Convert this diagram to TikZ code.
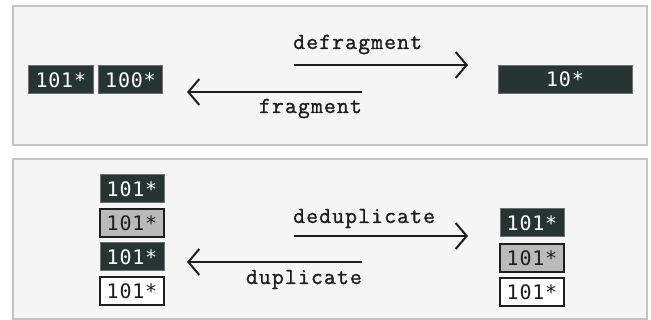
\documentclass[tikz,border=0pt]{standalone}
\usepackage{fontspec}
\usetikzlibrary{arrows.meta}
\newfontfamily\lblfont[LetterSpace=5,FakeBold=1.2]{Latin Modern Mono}
\newfontfamily\boxfont[LetterSpace=4]{DejaVu Sans Mono}
\definecolor{panelfill}{HTML}{F4F5F4}
\definecolor{panelline}{HTML}{C4C4C4}
\definecolor{darkfill}{HTML}{263533}
\definecolor{darkline}{HTML}{707070}
\definecolor{grayfill}{HTML}{BABABA}
\definecolor{inkline}{HTML}{1E1E1E}
\tikzset{
  panel/.style={draw=panelline, fill=panelfill, line width=2pt},
  cell/.style={rectangle, inner sep=0pt, minimum width=64.5pt, minimum height=28pt,
    font=\boxfont\fontsize{20pt}{20pt}\selectfont},
  darkcell/.style={cell, fill=darkfill, draw=darkline, line width=1pt, text=white},
  graycell/.style={cell, fill=grayfill, draw=inkline, line width=1.5pt, text=inkline},
  whitecell/.style={cell, fill=white, draw=inkline, line width=1.5pt, text=inkline},
  lbl/.style={inner sep=0pt, font=\lblfont\fontsize{23pt}{23pt}\selectfont, text=inkline},
  flow/.style={draw=inkline, line width=2pt, -{Straight Barb[length=11pt,width=26pt]}},
}
\begin{document}
\begin{tikzpicture}[x=1pt,y=-1pt]
\useasboundingbox (0,0) rectangle (651,320);
% panels
\path[panel] (13,6) rectangle (647,145);
\path[panel] (13,159) rectangle (647,319);
% top panel
\node[darkcell] (a1) at (60.8,80) {101*};
\node[darkcell] (a2) at (130.5,80) {100*};
\node[darkcell, minimum width=134pt] (a3) at (565,79.5) {10*};
\coordinate (dfs) at (294,65);
\coordinate (dfe) at (468,65);
\coordinate (frs) at (362,92);
\coordinate (fre) at (187,92);
\draw[flow] (dfs) -- (dfe);
\draw[flow] (frs) -- (fre);
\node[lbl, anchor=base west] (tdf) at (293,49) {defragment};
\node[lbl, anchor=base east] (tfr) at (362,113) {fragment};
% bottom panel
\node[darkcell, minimum width=64pt] (b1) at (132,189) {101*};
\node[graycell, minimum width=64pt] (b2) at (132,223) {101*};
\node[darkcell, minimum width=64pt] (b3) at (132,257) {101*};
\node[whitecell, minimum width=64pt] (b4) at (132,291) {101*};
\node[darkcell, minimum width=64pt] (c1) at (532,223) {101*};
\node[graycell, minimum width=64pt] (c2) at (532,258) {101*};
\node[whitecell, minimum width=64pt] (c3) at (532,292) {101*};
\coordinate (dds) at (294,236);
\coordinate (dde) at (468,236);
\coordinate (dus) at (362,262);
\coordinate (due) at (187,262);
\draw[flow] (dds) -- (dde);
\draw[flow] (dus) -- (due);
\node[lbl, anchor=base west] (tdd) at (293,223) {deduplicate};
\node[lbl, anchor=base east] (tdu) at (362,284) {duplicate};
\end{tikzpicture}
\end{document}
